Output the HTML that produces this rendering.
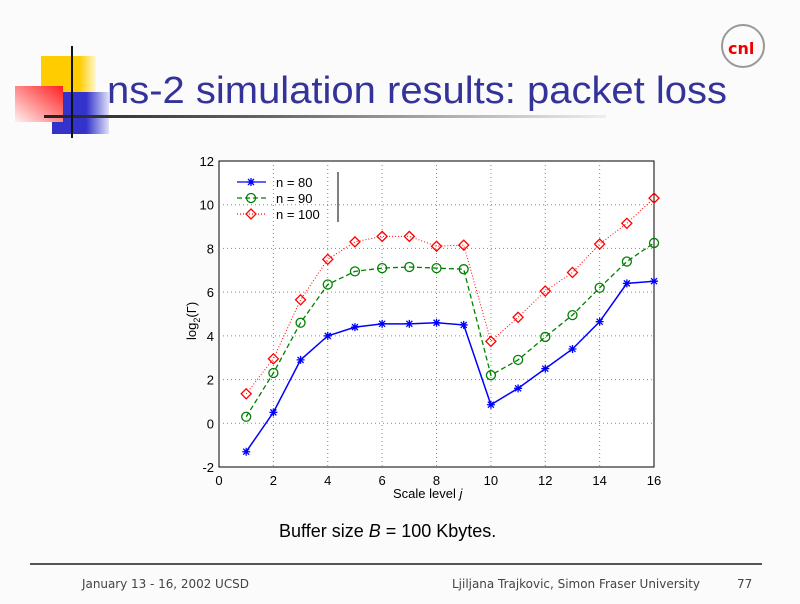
<!DOCTYPE html>
<html><head><meta charset="utf-8"><style>
body{margin:0;width:800px;height:600px;background:#fbfbfb;overflow:hidden;font-family:"DejaVu Sans","Liberation Sans",sans-serif;}
</style></head><body>
<svg id="s" width="800" height="600" xmlns="http://www.w3.org/2000/svg">
<defs>
<linearGradient id="bar" x1="0" x2="1"><stop offset="0" stop-color="#222"/><stop offset="0.4" stop-color="#666"/><stop offset="1" stop-color="#eee"/></linearGradient>
<linearGradient id="yel" x1="0" x2="1"><stop offset="0.7" stop-color="#ffcc00"/><stop offset="1" stop-color="#fff8d0"/></linearGradient>
<linearGradient id="blu" x1="0" x2="1"><stop offset="0.6" stop-color="#3333cc"/><stop offset="1" stop-color="#e0e0f8"/></linearGradient>
<linearGradient id="red" x1="1" y1="0" x2="0" y2="1"><stop offset="0" stop-color="#ff2020"/><stop offset="1" stop-color="#fff0f0"/></linearGradient>
</defs>
<rect x="41" y="56" width="55" height="42" fill="url(#yel)"/>
<rect x="52" y="92" width="57" height="42" fill="url(#blu)"/>
<rect x="15" y="86" width="48" height="36" fill="url(#red)"/>
<rect x="44" y="115" width="562" height="3" fill="url(#bar)"/>
<rect x="71" y="46" width="2" height="92" fill="#111"/>
<text x="107" y="103" font-size="38" fill="#333399" textLength="620" lengthAdjust="spacingAndGlyphs" font-family="Liberation Sans,sans-serif">ns-2 simulation results: packet loss</text>
<circle cx="743" cy="46" r="21" fill="none" stroke="#999" stroke-width="2"/>
<text x="728" y="54" font-size="16" font-weight="bold" fill="#e00">cnl</text>
<g id="plot"></g>
<text x="279" y="537" font-size="18" fill="#000" font-family="Liberation Sans,sans-serif">Buffer size <tspan font-style="italic">B</tspan> = 100 Kbytes.</text>
<rect x="30" y="563" width="732" height="2" fill="#555"/>
<text x="82" y="588" font-size="12" fill="#444" textLength="167">January 13 - 16, 2002 UCSD</text>
<text x="452" y="588" font-size="12" fill="#444" textLength="248">Ljiljana Trajkovic, Simon Fraser University</text>
<text x="737" y="588" font-size="12" fill="#444">77</text>
</svg>
<script>
const X=v=>219+27.19*v, Y=v=>423.3-21.86*v;
let h='';
h+=`<rect x="219" y="161" width="435" height="306" fill="#fff" stroke="#000" stroke-width="1"/>`;
for(let i=2;i<16;i+=2)h+=`<line x1="${X(i)}" y1="161" x2="${X(i)}" y2="467" stroke="#888" stroke-dasharray="1,3"/>`;
for(let v=0;v<12;v+=2)h+=`<line x1="219" y1="${Y(v)}" x2="654" y2="${Y(v)}" stroke="#888" stroke-dasharray="1,3"/>`;
for(let i=0;i<=16;i+=2)h+=`<text x="${X(i)}" y="485" font-size="13" text-anchor="middle" font-family="Liberation Sans,sans-serif">${i}</text>`;
for(let v=-2;v<=12;v+=2)h+=`<text x="214" y="${Y(v)+5}" font-size="13" text-anchor="end" font-family="Liberation Sans,sans-serif">${v}</text>`;
h+=`<text x="393" y="498" font-size="13" font-family="Liberation Sans,sans-serif">Scale level <tspan font-style="italic">j</tspan></text>`;
h+=`<text transform="translate(196,340) rotate(-90)" font-size="13" font-family="Liberation Sans,sans-serif">log<tspan font-size="9" dy="4">2</tspan><tspan dy="-4">(Γ)</tspan></text>`;
const d80=[-1.3,0.5,2.9,4.0,4.4,4.55,4.55,4.6,4.5,0.85,1.6,2.5,3.4,4.65,6.4,6.5];
const d90=[0.3,2.3,4.6,6.35,6.95,7.1,7.15,7.1,7.05,2.2,2.9,3.95,4.95,6.2,7.4,8.25];
const d100=[1.35,2.95,5.65,7.5,8.3,8.55,8.55,8.1,8.15,3.75,4.85,6.05,6.9,8.2,9.15,10.3];
function star(x,y,c){return `<path d="M${x-4},${y}h8M${x},${y-4}v8M${x-3},${y-3}l6,6M${x-3},${y+3}l6,-6" stroke="${c}" stroke-width="1.3"/>`}
function circ(x,y,c){return `<circle cx="${x}" cy="${y}" r="4.5" fill="none" stroke="${c}" stroke-width="1.3"/>`}
function dia(x,y,c){return `<path d="M${x},${y-5}l5,5l-5,5l-5,-5z" fill="none" stroke="${c}" stroke-width="1.3"/>`}
function ser(d,c,dash,w,m){let p=d.map((v,i)=>X(i+1)+','+Y(v)).join(' ');let s=`<polyline points="${p}" fill="none" stroke="${c}" stroke-width="${w}" ${dash?'stroke-dasharray="'+dash+'"':''}/>`;d.forEach((v,i)=>s+=m(X(i+1),Y(v),c));return s;}
h+=ser(d100,'#ff0000','1,2',1,dia);
h+=ser(d90,'#008000','5,3',1.3,circ);
h+=ser(d80,'#0000ff','',1.5,star);
h+=`<line x1="338" y1="172" x2="338" y2="222" stroke="#000"/>`;
const L=[[182,'#0000ff','',star,'n = 80'],[198,'#008000','5,3',circ,'n = 90'],[214,'#ff0000','1,2',dia,'n = 100']];
L.forEach(([y,c,da,m,t])=>{h+=`<line x1="237" y1="${y}" x2="266" y2="${y}" stroke="${c}" stroke-width="1.3" ${da?'stroke-dasharray="'+da+'"':''}/>`+m(251,y,c)+`<text x="276" y="${y+5}" font-size="13" font-family="Liberation Sans,sans-serif">${t}</text>`});
document.getElementById('plot').innerHTML=h;
</script>
</body></html>
